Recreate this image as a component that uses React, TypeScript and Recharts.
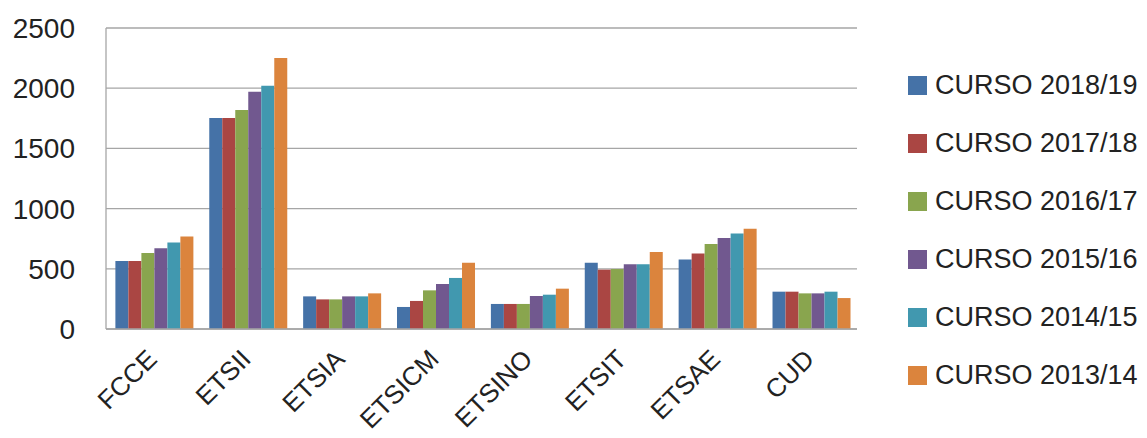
import { BarChart, Bar, XAxis, YAxis, CartesianGrid } from 'recharts';

const centros = ['FCCE', 'ETSII', 'ETSIA', 'ETSICM', 'ETSINO', 'ETSIT', 'ETSAE', 'CUD'];

const curso1819 = [565, 1752, 271, 183, 208, 551, 578, 310];
const curso1718 = [565, 1752, 246, 233, 208, 493, 628, 310];
const curso1617 = [631, 1819, 246, 321, 208, 498, 706, 296];
const curso1516 = [670, 1971, 271, 374, 274, 537, 756, 296];
const curso1415 = [719, 2021, 271, 424, 285, 537, 794, 310];
const curso1314 = [769, 2251, 296, 551, 335, 640, 833, 257];

const yTicks = [0, 500, 1000, 1500, 2000, 2500];

const series = [
  { key: 'c1819', name: 'CURSO 2018/19', color: '#4572A7', values: curso1819 },
  { key: 'c1718', name: 'CURSO 2017/18', color: '#AA4643', values: curso1718 },
  { key: 'c1617', name: 'CURSO 2016/17', color: '#89A54E', values: curso1617 },
  { key: 'c1516', name: 'CURSO 2015/16', color: '#71588F', values: curso1516 },
  { key: 'c1415', name: 'CURSO 2014/15', color: '#4198AF', values: curso1415 },
  { key: 'c1314', name: 'CURSO 2013/14', color: '#DB843D', values: curso1314 },
];

const data = centros.map((name, i) => {
  const row: Record<string, string | number> = { name };
  series.forEach((s) => { row[s.key] = s.values[i]; });
  return row;
});

const FONT = '"Liberation Sans", Arial, sans-serif';

const AngledTick = ({ x, y, payload }: { x?: number; y?: number; payload?: { value: string } }) => (
  <text
    x={x}
    y={y}
    transform={`rotate(-45, ${x}, ${y})`}
    textAnchor="end"
    dy={8}
    fontSize={26}
    fontFamily={FONT}
    fill="#222"
  >
    {payload?.value}
  </text>
);

export default function App() {
  return (
    <div style={{ position: 'absolute', left: 0, top: 0, width: 1147, height: 438, background: '#fff' }}>
      <BarChart
        width={1147}
        height={438}
        data={data}
        margin={{ top: 28, right: 290, bottom: 0, left: 0 }}
        barCategoryGap="10%"
        barGap={0}
      >
        <CartesianGrid vertical={false} stroke="#a6a6a6" strokeWidth={1.3} />
        <XAxis
          dataKey="name"
          height={109}
          interval={0}
          tick={<AngledTick />}
          tickLine={false}
          tickSize={0}
          tickMargin={26}
          axisLine={{ stroke: '#a6a6a6', strokeWidth: 1.3 }}
        />
        <YAxis
          width={106}
          domain={[0, 2500]}
          ticks={yTicks}
          tickLine={false}
          tickSize={0}
          tickMargin={31}
          axisLine={{ stroke: '#a6a6a6', strokeWidth: 1.3 }}
          tick={{ fontSize: 28, fontFamily: FONT, fill: '#222' }}
        />
        {series.map((s) => (
          <Bar key={s.key} dataKey={s.key} name={s.name} fill={s.color} isAnimationActive={false} />
        ))}
      </BarChart>
      {/* legend */}
      <div style={{ position: 'absolute', left: 908, top: 68, display: 'flex', flexDirection: 'column', gap: 23 }}>
        {series.map((s) => (
          <div key={s.key} style={{ display: 'flex', alignItems: 'center', gap: 8, height: 35 }}>
            <div style={{ width: 19, height: 19, background: s.color }} />
            <span style={{ fontSize: 27, fontFamily: FONT, color: '#222', whiteSpace: 'nowrap' }}>{s.name}</span>
          </div>
        ))}
      </div>
    </div>
  );
}
